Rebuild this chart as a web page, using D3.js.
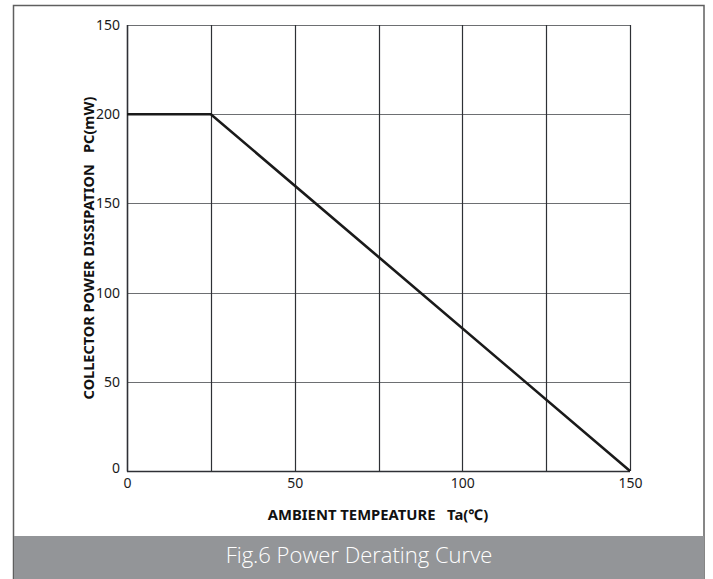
<!DOCTYPE html>
<html>
<head>
<meta charset="utf-8">
<script src="https://cdn.jsdelivr.net/npm/d3@7"></script>
<style>
  html, body { margin: 0; padding: 0; background: #fff; }
  svg { display: block; }
  text { white-space: pre; }
</style>
</head>
<body>
<svg id="chart" width="713" height="579"></svg>
<script>
// derating curve: flat at 200mW up to 25C, then linear down to 0 at 150C
var tempC = [0, 25, 150];
var powerMW = [200, 200, 0];

var xTicks = [0, 50, 100, 150];
var xGrid = [25, 50, 75, 100, 125, 150];
var yTicks = [0, 50, 100, 150, 200, 250];
var yTickLabels = ["0", "50", "100", "150", "200", "150"]; // top label reads 150 in the original

var xTitle = "AMBIENT TEMPEATURE   Ta(\u2103)";
var yTitle = "COLLECTOR POWER DISSIPATION   PC(mW)";
var caption = "Fig.6 Power Derating Curve";

var svg = d3.select("#chart");
var W = 713, H = 579;

var pLeft = 127, pRight = 630, pTop = 25, pBottom = 471;

var x = d3.scaleLinear().domain([0, 150]).range([pLeft, pRight]);
var y = d3.scaleLinear().domain([0, 250]).range([pBottom, pTop]);

// outer frame
svg.append("rect")
	.attr("x", 13.5).attr("y", 5.5)
	.attr("width", 704 - 13.5).attr("height", H)
	.attr("fill", "#fff")
	.attr("stroke", "#5f5f5f")
	.attr("stroke-width", 1.5);

// caption band
svg.append("rect")
	.attr("x", 14).attr("y", 536)
	.attr("width", 704 - 14).attr("height", H - 536)
	.attr("fill", "#939598");

svg.append("text")
	.attr("x", 359).attr("y", 563)
	.attr("text-anchor", "middle")
	.attr("font-family", "'Open Sans', sans-serif")
	.attr("font-weight", 300)
	.attr("font-size", 22)
	.attr("fill", "#fff")
	.text(caption);

// grid
var g = svg.append("g");

g.selectAll(".hgrid").data(yTicks.slice(1)).enter().append("line")
	.attr("class", "hgrid")
	.attr("x1", pLeft).attr("x2", pRight)
	.attr("y1", function(d) { return Math.round(y(d)) + 0.5; })
	.attr("y2", function(d) { return Math.round(y(d)) + 0.5; })
	.attr("stroke", "#6d6f72")
	.attr("stroke-width", 1.2);

g.selectAll(".vgrid").data(xGrid).enter().append("line")
	.attr("class", "vgrid")
	.attr("y1", pTop).attr("y2", pBottom)
	.attr("x1", function(d) { return Math.round(x(d)) + 0.5; })
	.attr("x2", function(d) { return Math.round(x(d)) + 0.5; })
	.attr("stroke", "#2e3035")
	.attr("stroke-width", 1.2);

// axes (no tick marks, just labels)
var yAxis = d3.axisLeft(y)
	.tickValues(yTicks)
	.tickSize(0)
	.tickPadding(7)
	.tickFormat(function(d, i) { return yTickLabels[i]; });

var xAxis = d3.axisBottom(x)
	.tickValues(xTicks)
	.tickSize(0)
	.tickPadding(7);

var ya = svg.append("g").attr("transform", "translate(" + pLeft + ",0)").call(yAxis);
var xa = svg.append("g").attr("transform", "translate(0," + pBottom + ")").call(xAxis);

[ya, xa].forEach(function(a) {
	a.select(".domain").remove();
	a.selectAll("text")
		.attr("font-family", "'Noto Sans', sans-serif")
		.attr("font-size", 14)
		.attr("fill", "#1a1a1a");
});
ya.selectAll(".tick").filter(function(d) { return d === 0; })
	.select("text").attr("dy", "0.1em");

// plot border (left & bottom darker)
svg.append("line")
	.attr("x1", pLeft + 0.5).attr("x2", pLeft + 0.5)
	.attr("y1", pTop).attr("y2", pBottom + 0.5)
	.attr("stroke", "#2e3035").attr("stroke-width", 1.6);
svg.append("line")
	.attr("x1", pLeft).attr("x2", pRight)
	.attr("y1", pBottom + 0.5).attr("y2", pBottom + 0.5)
	.attr("stroke", "#2e3035").attr("stroke-width", 1.6);

// curve
var line = d3.line()
	.x(function(d, i) { return x(tempC[i]); })
	.y(function(d) { return y(d); });

svg.append("path")
	.datum(powerMW)
	.attr("d", line)
	.attr("fill", "none")
	.attr("stroke", "#1a1a1a")
	.attr("stroke-width", 2.6);

// axis titles
svg.append("text")
	.attr("x", 378).attr("y", 520)
	.attr("text-anchor", "middle")
	.attr("font-family", "'Noto Sans', sans-serif")
	.attr("font-weight", "bold")
	.attr("font-size", 14.8)
	.attr("fill", "#111")
	.text(xTitle);

svg.append("text")
	.attr("transform", "translate(94," + (pTop + pBottom) / 2 + ") rotate(-90)")
	.attr("text-anchor", "middle")
	.attr("font-family", "'Noto Sans', sans-serif")
	.attr("font-weight", "bold")
	.attr("font-size", 14.5)
	.attr("fill", "#111")
	.text(yTitle);
</script>
</body>
</html>
